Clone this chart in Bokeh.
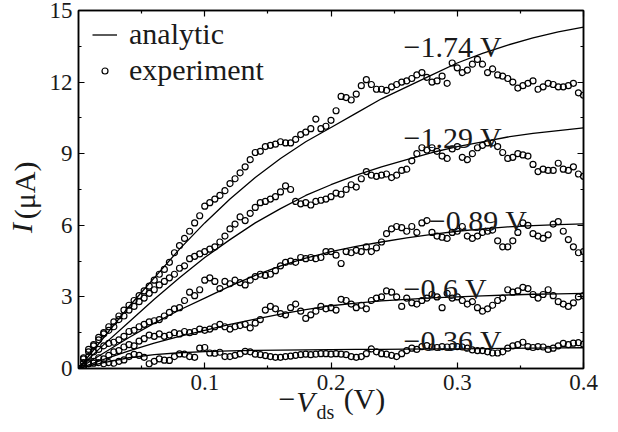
import numpy as np
from bokeh.plotting import figure
from bokeh.models import Range1d, FixedTicker, LinearAxis, Label, Legend, LegendItem
from bokeh.embed import file_html
from bokeh.resources import INLINE

# ---------------- data ----------------
vds_exp = np.linspace(0, 0.4, 101)   # measured drain voltages (-V_ds, V)
vds_fit = np.linspace(0, 0.4, 21)    # analytic curve sample voltages

gate_labels = ["\u22121.74 V", "\u22121.29 V", "\u22120.89 V", "\u22120.6 V", "\u22120.36 V"]

exp_174 = [0, 0.45, 0.7, 0.95, 1.2, 1.5, 1.75, 1.95, 2.2, 2.45, 2.65, 2.85, 3.05, 3.25, 3.45, 3.7, 3.95, 4.15, 4.45, 4.85, 5.15, 5.45, 5.75, 6.1, 6.4,
           6.8, 6.95, 7.1, 7.25, 7.45, 7.75, 7.95, 8.2, 8.45, 8.75, 9.05, 9.1, 9.3, 9.35, 9.4, 9.5, 9.45, 9.45, 9.6, 9.8, 9.9, 10.05, 10.45, 10.05, 10.15,
           10.4, 10.8, 11.4, 11.35, 11.25, 11.5, 11.85, 12.1, 11.9, 11.7, 11.7, 11.65, 11.8, 11.9, 12.0, 12.05, 12.15, 12.3, 12.4, 12.2, 12.0, 12.05, 12.25, 11.95, 12.8,
           12.6, 12.4, 12.5, 12.75, 12.95, 12.75, 12.4, 12.55, 12.3, 12.25, 12.15, 12.0, 11.75, 11.85, 11.95, 12.05, 11.7, 11.8, 11.95, 11.9, 11.8, 11.8, 11.85, 11.95, 11.55, 11.45]
exp_129 = [0, 0.4, 0.8, 1.0, 1.3, 1.45, 1.6, 1.75, 2.05, 2.2, 2.45, 2.6, 2.8, 2.95, 3.15, 3.3, 3.5, 3.65, 3.8, 3.95, 4.2, 4.3, 4.6, 4.7, 4.8,
           4.9, 5.0, 5.1, 5.3, 5.55, 5.85, 6.05, 6.35, 6.2, 6.5, 6.75, 6.95, 7.0, 7.1, 7.2, 7.4, 7.65, 7.5, 7.0, 6.9, 6.95, 6.85, 7.0, 7.05, 7.1,
           7.2, 7.35, 7.3, 7.5, 7.7, 7.6, 7.95, 8.25, 8.1, 8.05, 8.1, 8.15, 8.0, 8.1, 8.3, 8.35, 8.7, 9.0, 9.25, 9.15, 9.25, 9.1, 8.9, 8.8, 9.2,
           9.3, 8.85, 8.75, 9.0, 9.25, 9.35, 9.45, 9.45, 9.3, 9.05, 8.8, 8.85, 9.0, 8.95, 8.9, 8.55, 8.25, 8.35, 8.3, 8.3, 8.6, 8.35, 8.3, 8.45, 8.15, 8.05]
exp_089 = [0, 0.25, 0.5, 0.7, 0.8, 0.95, 1.05, 1.1, 1.2, 1.35, 1.55, 1.6, 1.75, 1.85, 1.95, 2.0, 2.05, 2.2, 2.35, 2.5, 2.55, 2.85, 3.2, 3.05, 3.3,
           3.7, 3.8, 3.65, 3.35, 3.65, 3.55, 3.7, 3.6, 3.5, 3.7, 3.85, 3.95, 3.9, 3.95, 4.1, 4.3, 4.45, 4.5, 4.45, 4.65, 4.6, 4.65, 4.6, 4.65, 4.9,
           4.9, 4.75, 4.4, 4.9, 4.85, 4.95, 4.9, 5.1, 4.9, 5.05, 5.3, 5.65, 5.85, 5.95, 5.9, 5.75, 5.95, 5.7, 6.1, 6.2, 5.7, 5.55, 5.5, 5.45, 5.7,
           5.75, 5.95, 5.55, 5.45, 5.55, 5.7, 5.75, 5.8, 5.35, 5.1, 5.1, 5.35, 5.7, 6.1, 6.0, 5.65, 5.55, 5.45, 5.6, 6.05, 6.15, 5.75, 5.4, 5.1, 4.85, 4.9]
exp_060 = [0, 0.1, 0.2, 0.3, 0.45, 0.4, 0.55, 0.7, 0.75, 0.9, 1.0, 0.95, 1.15, 1.25, 1.4, 1.35, 1.45, 1.35, 1.4, 1.5, 1.45, 1.55, 1.5, 1.55, 1.65,
           1.6, 1.65, 1.75, 1.85, 1.75, 1.65, 1.75, 1.8, 1.85, 1.7, 1.9, 2.05, 2.45, 2.6, 2.5, 2.3, 2.25, 2.55, 2.7, 2.4, 2.1, 2.25, 2.4, 2.6, 2.5,
           2.55, 2.45, 2.9, 2.85, 2.7, 2.55, 2.65, 2.5, 2.85, 2.95, 3.0, 3.25, 3.2, 3.0, 2.6, 2.95, 2.75, 2.7, 2.85, 2.95, 3.1, 3.0, 2.55, 3.15, 2.95,
           3.0, 2.85, 2.7, 2.8, 2.55, 2.4, 2.5, 2.65, 2.85, 2.95, 3.3, 3.2, 3.25, 3.4, 3.35, 3.1, 2.95, 3.1, 3.3, 3.05, 2.8, 2.7, 2.6, 2.75, 3.0, 3.05]
exp_036 = [0, 0.08, 0.2, 0.22, 0.25, 0.2, 0.25, 0.22, 0.3, 0.36, 0.5, 0.59, 0.55, 0.47, 0.2, 0.3, 0.4, 0.35, 0.34, 0.5, 0.61, 0.6, 0.5, 0.47, 0.85,
           0.88, 0.65, 0.64, 0.68, 0.5, 0.5, 0.55, 0.61, 0.72, 0.7, 0.6, 0.58, 0.54, 0.5, 0.47, 0.47, 0.5, 0.52, 0.55, 0.58, 0.6, 0.58, 0.6, 0.62, 0.62,
           0.6, 0.62, 0.6, 0.58, 0.5, 0.47, 0.5, 0.62, 0.82, 0.7, 0.62, 0.6, 0.55, 0.5, 0.62, 0.75, 0.85, 0.8, 0.92, 0.96, 0.9, 0.88, 0.92, 0.9, 0.92,
           0.92, 0.9, 0.85, 0.78, 0.75, 0.75, 0.7, 0.65, 0.65, 0.7, 0.85, 0.95, 1.0, 1.1, 0.92, 0.88, 0.92, 0.9, 0.8, 0.85, 0.95, 1.05, 1.0, 1.06, 1.08, 1.02]

fit_174 = [0, 1.3, 2.6, 3.8, 5.0, 6.1, 7.1, 8.0, 8.8, 9.5, 10.1, 10.7, 11.3, 11.8, 12.3, 12.8, 13.2, 13.55, 13.85, 14.1, 14.3]
fit_129 = [0, 1.0, 1.95, 2.9, 3.8, 4.65, 5.4, 6.1, 6.7, 7.25, 7.7, 8.1, 8.45, 8.75, 9.05, 9.3, 9.5, 9.7, 9.85, 9.97, 10.08]
fit_089 = [0, 0.65, 1.3, 1.9, 2.45, 2.95, 3.45, 3.9, 4.3, 4.62, 4.9, 5.12, 5.3, 5.47, 5.62, 5.75, 5.85, 5.93, 5.99, 6.03, 6.06]
fit_060 = [0, 0.38, 0.74, 1.06, 1.35, 1.6, 1.85, 2.07, 2.28, 2.47, 2.63, 2.74, 2.83, 2.9, 2.96, 3.0, 3.04, 3.08, 3.11, 3.13, 3.15]
fit_036 = [0, 0.25, 0.45, 0.58, 0.66, 0.71, 0.74, 0.76, 0.77, 0.78, 0.79, 0.8, 0.8, 0.81, 0.82, 0.82, 0.83, 0.84, 0.85, 0.86, 0.87]

x_ticks = [0.1, 0.2, 0.3, 0.4]
x_minor = [0.05, 0.15, 0.25, 0.35]
y_ticks = [0, 3, 6, 9, 12, 15]
y_minor = [1.5, 4.5, 7.5, 10.5, 13.5]

# ---------------- figure ----------------
FONT = "Liberation Serif"
INK = "#1a1a1a"
BIG = "30px"

p = figure(width=618, height=432, x_range=Range1d(0, 0.4), y_range=Range1d(0, 15),
           output_backend="svg", toolbar_location=None,
           min_border_left=78, min_border_right=35, min_border_top=10, min_border_bottom=64)
p.xgrid.visible = False
p.ygrid.visible = False
p.outline_line_color = "black"
p.outline_line_width = 1.5
p.background_fill_color = "white"
p.border_fill_color = "white"

xt = FixedTicker(ticks=x_ticks, minor_ticks=x_minor)
yt = FixedTicker(ticks=y_ticks, minor_ticks=y_minor)


def style(ax, show_labels, standoff):
    ax.major_tick_in = 6
    ax.major_tick_out = 0
    ax.minor_tick_in = 3
    ax.minor_tick_out = 0
    ax.axis_line_color = "black"
    ax.axis_line_width = 1.5
    ax.major_tick_line_width = 1.2
    ax.minor_tick_line_width = 1.2
    ax.major_label_text_font = FONT
    ax.major_label_standoff = standoff
    if show_labels:
        ax.major_label_text_font_size = "23px"
        ax.major_label_text_color = INK
    else:
        ax.major_label_text_font_size = "0px"
        ax.major_label_text_color = None


p.xaxis[0].ticker = xt
p.yaxis[0].ticker = yt
style(p.xaxis[0], True, 6)
style(p.yaxis[0], True, 6)
top_ax = LinearAxis(ticker=xt)
right_ax = LinearAxis(ticker=yt)
style(top_ax, False, 0)
style(right_ax, False, 0)
p.add_layout(top_ax, "above")
p.add_layout(right_ax, "right")


# axis titles, drawn as tick labels of bare extra axes (mixed italic / subscript)
def title_axis(side, ticks, labels, size, font_style, standoff, orientation=None):
    ax = LinearAxis(ticker=FixedTicker(ticks=ticks, minor_ticks=[]),
                    major_label_overrides=dict(zip(ticks, labels)))
    ax.axis_line_color = None
    ax.major_tick_line_color = None
    ax.minor_tick_line_color = None
    ax.major_tick_in = 0
    ax.major_tick_out = 0
    ax.minor_tick_in = 0
    ax.minor_tick_out = 0
    ax.major_label_text_font = FONT
    ax.major_label_text_font_size = size
    ax.major_label_text_font_style = font_style
    ax.major_label_text_color = INK
    ax.major_label_standoff = standoff
    if orientation is not None:
        ax.major_label_orientation = orientation
    p.add_layout(ax, side)


# x title: "−V_ds (V)"
title_axis("below", [0.1651, 0.2265], ["\u2212", "(V)"], BIG, "normal", -11)
title_axis("below", [0.1798], ["V"], BIG, "italic", -33)
title_axis("below", [0.1956], ["ds"], "20px", "normal", -20)
# y title: "I (μA)"
title_axis("left", [7.46], ["(\u03bcA)"], BIG, "normal", 5, "parallel")
title_axis("left", [5.89], ["I"], BIG, "italic", -33, "parallel")

exp_series = [exp_174, exp_129, exp_089, exp_060, exp_036]
fit_series = [fit_174, fit_129, fit_089, fit_060, fit_036]

line_r = None
pt_r = None
for fit in fit_series:
    r = p.line(vds_fit, fit, line_color="black", line_width=1.3)
    if line_r is None:
        line_r = r
for ex in exp_series:
    r = p.scatter(vds_exp, ex, marker="circle", size=6, line_color="black",
                  line_width=1.2, fill_color=None)
    if pt_r is None:
        pt_r = r

# curve annotations (gate voltages)
ann_pos = [(0.2575, 13.5), (0.2575, 9.68), (0.2775, 6.2), (0.2575, 3.35), (0.2575, 1.17)]
for txt, (ax_, ay_) in zip(gate_labels, ann_pos):
    p.add_layout(Label(x=ax_, y=ay_, text=txt, text_font=FONT, text_font_size=BIG,
                       text_color=INK, text_baseline="alphabetic", text_align="left"))

# legend
legend = Legend(items=[LegendItem(label="analytic", renderers=[line_r]),
                       LegendItem(label="experiment", renderers=[pt_r])],
                location=(14, 281), padding=0, margin=0, spacing=2,
                glyph_width=25, glyph_height=15, label_standoff=12,
                label_text_font=FONT, label_text_font_size=BIG, label_text_color=INK,
                border_line_color=None, background_fill_alpha=0)
p.add_layout(legend)

open("out.html", "w").write(file_html(p, INLINE))
